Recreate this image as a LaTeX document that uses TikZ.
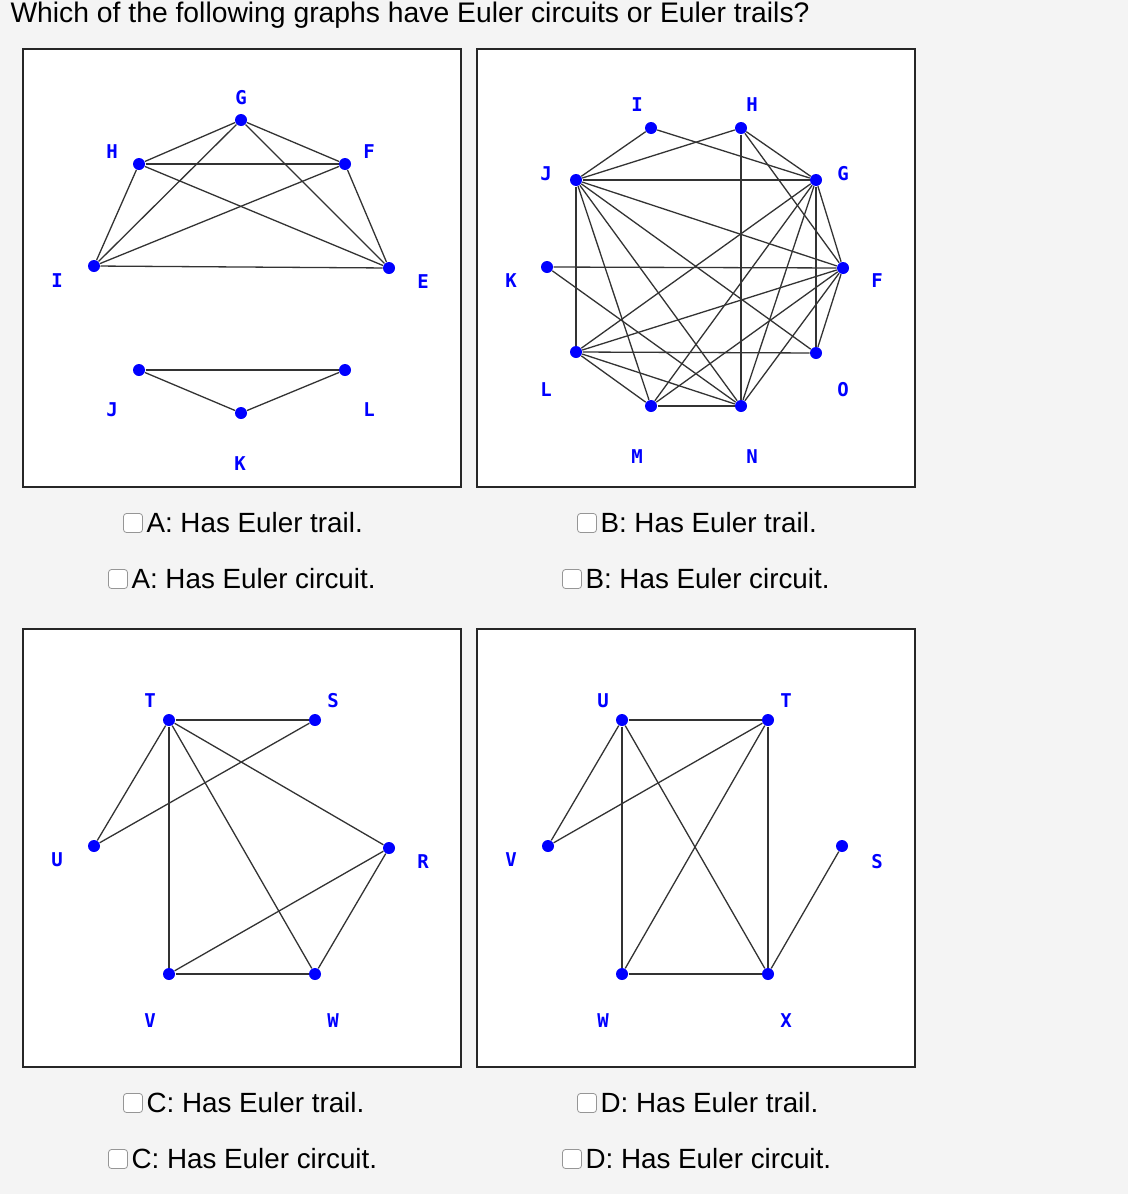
\documentclass[tikz,border=0pt]{standalone}
\usepackage{fontspec}
\setmainfont{Liberation Sans}
\newfontfamily\lblfont{DejaVu Sans Mono}
\usetikzlibrary{positioning}
\definecolor{page_gray}{RGB}{244,244,244}
\definecolor{vert_blue}{RGB}{0,0,255}
\definecolor{box_gray}{RGB}{150,150,150}
\begin{document}
\begin{tikzpicture}[x=1pt,y=-1pt,line width=1pt]
    \tikzstyle{v}=[circle, fill=vert_blue, inner sep=0pt, minimum size=12pt]
    \tikzstyle{lbl}=[text=vert_blue, font=\lblfont\bfseries\fontsize{19}{19}\selectfont]
    \tikzstyle{panel}=[fill=white, draw=black!85, line width=1.5pt]
    \tikzstyle{chk}=[draw=box_gray, fill=white, rounded corners=3pt, line width=0.8pt, minimum size=19pt, inner sep=0pt]
    \tikzstyle{ans}=[font=\fontsize{27.8}{27.8}\selectfont, anchor=west, inner sep=0pt]
    \tikzstyle{e}=[draw=black!80, line width=1.3pt]

    \fill[page_gray] (0,0) rectangle (1128,1194);
    \node[font=\fontsize{28.3}{28.3}\selectfont, anchor=west, inner sep=0pt] (title) at (10,15) {Which of the following graphs have Euler circuits or Euler trails?};

    \draw[panel] (23,49) rectangle (461,487);
    \draw[panel] (477,49) rectangle (915,487);
    \draw[panel] (23,629) rectangle (461,1067);
    \draw[panel] (477,629) rectangle (915,1067);

    % graph A
    \node[v] (aG) at (241,120) {};  \node[lbl] at (241,98)  {G};
    \node[v] (aH) at (139,164) {};  \node[lbl] at (112,152) {H};
    \node[v] (aF) at (345,164) {};  \node[lbl] at (369,152) {F};
    \node[v] (aI) at (94,266)  {};  \node[lbl] at (57,281)  {I};
    \node[v] (aE) at (389,268) {};  \node[lbl] at (423,282) {E};
    \node[v] (aJ) at (139,370) {};  \node[lbl] at (112,410) {J};
    \node[v] (aL) at (345,370) {};  \node[lbl] at (369,410) {L};
    \node[v] (aK) at (241,413) {};  \node[lbl] at (240,464) {K};
    \foreach \s/\t in {G/H,G/F,G/I,G/E,H/F,H/I,H/E,F/I,F/E,I/E,J/L,J/K,K/L}
      \path[e] (a\s) -- (a\t);

    % graph B
    \node[v] (bI) at (651,128) {};  \node[lbl] at (637,105) {I};
    \node[v] (bH) at (741,128) {};  \node[lbl] at (752,105) {H};
    \node[v] (bJ) at (576,180) {};  \node[lbl] at (546,174) {J};
    \node[v] (bG) at (816,180) {};  \node[lbl] at (843,174) {G};
    \node[v] (bK) at (547,267) {};  \node[lbl] at (511,281) {K};
    \node[v] (bF) at (843,268) {};  \node[lbl] at (877,281) {F};
    \node[v] (bL) at (576,352) {};  \node[lbl] at (546,390) {L};
    \node[v] (bO) at (816,353) {};  \node[lbl] at (843,390) {O};
    \node[v] (bM) at (651,406) {};  \node[lbl] at (637,457) {M};
    \node[v] (bN) at (741,406) {};  \node[lbl] at (752,457) {N};
    \foreach \s/\t in {I/J,I/G,H/J,H/N,H/G,H/F,J/G,J/L,J/F,J/O,J/M,J/N,
                       G/F,G/O,G/L,G/M,G/N,K/F,K/N,F/O,F/L,F/M,F/N,L/O,L/M,L/N,M/N}
      \path[e] (b\s) -- (b\t);

    % graph C
    \node[v] (cT) at (169,720) {};  \node[lbl] at (150,701)  {T};
    \node[v] (cS) at (315,720) {};  \node[lbl] at (333,701)  {S};
    \node[v] (cU) at (94,846)  {};  \node[lbl] at (57,860)   {U};
    \node[v] (cR) at (389,848) {};  \node[lbl] at (423,862)  {R};
    \node[v] (cV) at (169,974) {};  \node[lbl] at (150,1021) {V};
    \node[v] (cW) at (315,974) {};  \node[lbl] at (333,1021) {W};
    \foreach \s/\t in {T/S,T/V,T/R,T/W,U/T,U/S,R/V,R/W,V/W}
      \path[e] (c\s) -- (c\t);

    % graph D
    \node[v] (dU) at (622,720) {};  \node[lbl] at (603,701)  {U};
    \node[v] (dT) at (768,720) {};  \node[lbl] at (786,701)  {T};
    \node[v] (dV) at (548,846) {};  \node[lbl] at (511,860)  {V};
    \node[v] (dS) at (842,846) {};  \node[lbl] at (877,862)  {S};
    \node[v] (dW) at (622,974) {};  \node[lbl] at (603,1021) {W};
    \node[v] (dX) at (768,974) {};  \node[lbl] at (786,1021) {X};
    \foreach \s/\t in {U/T,U/W,U/X,U/V,T/V,T/W,T/X,W/X,S/X}
      \path[e] (d\s) -- (d\t);

    % answers
    \foreach \x/\y in {133/523, 587/523, 133/1103, 587/1103, 118/579, 572/579, 118/1159, 572/1159}
      \node[chk] at (\x,\y) {};
    \node[ans] (at) at (146,523)  {A: Has Euler trail.};
    \node[ans] (ac) at (131,579)  {A: Has Euler circuit.};
    \node[ans] (bt) at (600,523)  {B: Has Euler trail.};
    \node[ans] (bc) at (585,579)  {B: Has Euler circuit.};
    \node[ans] (ct) at (146,1103) {C: Has Euler trail.};
    \node[ans] (cc) at (131,1159) {C: Has Euler circuit.};
    \node[ans] (dt) at (600,1103) {D: Has Euler trail.};
    \node[ans] (dc) at (585,1159) {D: Has Euler circuit.};
\end{tikzpicture}
\end{document}
